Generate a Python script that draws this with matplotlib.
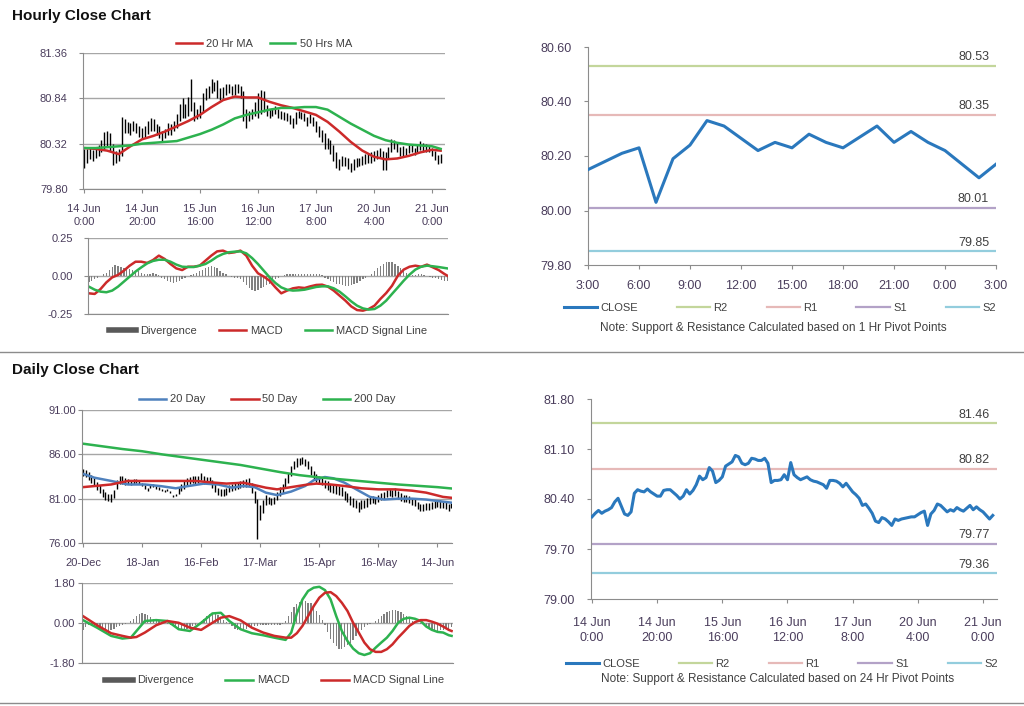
import matplotlib
matplotlib.use('Agg')
import matplotlib.pyplot as plt
from matplotlib.lines import Line2D

plt.rcParams['font.family'] = ['Liberation Sans', 'DejaVu Sans']
plt.rcParams['font.size'] = 8

# ---------------- hourly data (14 Jun 0:00 .. 21 Jun 3:00) ----------------
hourly_close = [
    80.15, 80.20, 80.24, 80.20, 80.23, 80.25, 80.28, 80.36, 80.41, 80.30,
    80.19, 80.17, 80.22, 80.48, 80.53, 80.51, 80.50, 80.54, 80.50, 80.47,
    80.44, 80.44, 80.52, 80.53, 80.53, 80.49, 80.45, 80.40, 80.44, 80.53,
    80.47, 80.52, 80.60, 80.72, 80.67, 80.70, 80.84, 80.79, 80.63, 80.66,
    80.71, 80.86, 80.89, 80.92, 81.01, 80.99, 80.90, 80.88, 80.90, 80.97,
    80.96, 80.94, 80.94, 80.97, 80.90, 80.63, 80.66, 80.66, 80.67, 80.74,
    80.67, 80.91, 80.74, 80.70, 80.67, 80.69, 80.71, 80.67, 80.65, 80.64,
    80.62, 80.60, 80.55, 80.66, 80.66, 80.65, 80.62, 80.57, 80.62, 80.56,
    80.50, 80.46, 80.41, 80.31, 80.33, 80.27, 80.20, 80.09, 80.07, 80.14,
    80.12, 80.08, 80.03, 80.12, 80.10, 80.12, 80.13, 80.14, 80.15, 80.15,
    80.18, 80.21, 80.23, 80.03, 80.19, 80.24, 80.33, 80.31, 80.265, 80.22,
    80.25, 80.23, 80.28, 80.25, 80.23, 80.27, 80.31, 80.25, 80.29, 80.25,
    80.22, 80.17, 80.12, 80.17,
]
hourly_high = [
    80.26, 80.26, 80.28, 80.25, 80.28, 80.30, 80.36, 80.45, 80.46, 80.44,
    80.32, 80.24, 80.26, 80.63, 80.60, 80.57, 80.56, 80.58, 80.56, 80.52,
    80.50, 80.52, 80.58, 80.62, 80.60, 80.55, 80.52, 80.47, 80.49, 80.56,
    80.54, 80.58, 80.66, 80.78, 80.84, 80.78, 80.86, 81.06, 80.80, 80.72,
    80.76, 80.90, 80.96, 80.98, 81.06, 81.03, 81.05, 80.96, 80.97, 81.00,
    81.00, 80.98, 81.00, 81.00, 80.98, 80.92, 80.72, 80.70, 80.72, 80.80,
    80.90, 80.94, 80.92, 80.76, 80.72, 80.73, 80.75, 80.72, 80.70, 80.68,
    80.67, 80.65, 80.62, 80.68, 80.70, 80.68, 80.67, 80.63, 80.66, 80.63,
    80.58, 80.52, 80.48, 80.44, 80.38, 80.36, 80.30, 80.22, 80.14, 80.18,
    80.17, 80.15, 80.10, 80.14, 80.15, 80.16, 80.18, 80.20, 80.20, 80.22,
    80.24, 80.25, 80.27, 80.24, 80.22, 80.28, 80.37, 80.36, 80.33, 80.28,
    80.29, 80.27, 80.31, 80.30, 80.27, 80.30, 80.35, 80.33, 80.32, 80.31,
    80.27, 80.24, 80.19, 80.20,
]
hourly_low = [
    80.04, 80.10, 80.14, 80.12, 80.16, 80.18, 80.22, 80.26, 80.28, 80.24,
    80.08, 80.10, 80.12, 80.18, 80.44, 80.44, 80.42, 80.46, 80.44, 80.40,
    80.38, 80.40, 80.43, 80.46, 80.46, 80.42, 80.38, 80.35, 80.38, 80.42,
    80.42, 80.46, 80.50, 80.58, 80.62, 80.62, 80.64, 80.70, 80.58, 80.60,
    80.62, 80.68, 80.82, 80.84, 80.90, 80.92, 80.84, 80.82, 80.84, 80.88,
    80.90, 80.88, 80.88, 80.90, 80.84, 80.58, 80.50, 80.58, 80.60, 80.64,
    80.62, 80.66, 80.68, 80.64, 80.62, 80.64, 80.66, 80.62, 80.60, 80.59,
    80.58, 80.55, 80.50, 80.54, 80.62, 80.60, 80.58, 80.52, 80.56, 80.52,
    80.45, 80.40, 80.34, 80.26, 80.26, 80.20, 80.12, 80.04, 80.02, 80.06,
    80.06, 80.03, 80.00, 80.02, 80.05, 80.06, 80.08, 80.09, 80.10, 80.10,
    80.12, 80.14, 80.17, 80.02, 80.02, 80.16, 80.22, 80.26, 80.22, 80.18,
    80.18, 80.19, 80.21, 80.22, 80.19, 80.21, 80.25, 80.22, 80.23, 80.22,
    80.18, 80.13, 80.09, 80.10,
]
ma_hours = [0, 4, 8, 12, 16, 20, 24, 28, 32, 36, 40, 44, 48, 52, 56, 60,
            64, 68, 72, 76, 80, 84, 88, 92, 96, 100, 104, 108, 112, 116, 120, 123]
ma20_hr = [80.27, 80.26, 80.24, 80.20, 80.29, 80.37, 80.41, 80.46, 80.52, 80.58,
           80.65, 80.74, 80.82, 80.86, 80.85, 80.85, 80.80, 80.76, 80.73, 80.69,
           80.65, 80.57, 80.46, 80.34, 80.24, 80.17, 80.14, 80.15, 80.18, 80.22,
           80.25, 80.24]
ma50_hr = [80.27, 80.27, 80.28, 80.29, 80.30, 80.32, 80.33, 80.34, 80.35, 80.39,
           80.43, 80.48, 80.54, 80.61, 80.65, 80.68, 80.71, 80.73, 80.73, 80.74,
           80.74, 80.71, 80.63, 80.55, 80.48, 80.41, 80.36, 80.33, 80.31, 80.30,
           80.29, 80.26]
hour_labels = ['14 Jun\n0:00', '14 Jun\n20:00', '15 Jun\n16:00', '16 Jun\n12:00',
               '17 Jun\n8:00', '20 Jun\n4:00', '21 Jun\n0:00']

macd_hours = list(range(0, 123, 2)) + [123]
macd_hr = [-0.114, -0.118, -0.086, -0.042, -0.009, 0.007, 0.035, 0.068, 0.094, 0.094,
           0.086, 0.105, 0.134, 0.112, 0.079, 0.050, 0.039, 0.061, 0.061, 0.068,
           0.101, 0.134, 0.162, 0.167, 0.151, 0.156, 0.167, 0.134, 0.068, 0.018,
           -0.004, -0.031, -0.075, -0.114, -0.096, -0.081, -0.075, -0.079, -0.068, -0.059,
           -0.057, -0.070, -0.096, -0.129, -0.162, -0.200, -0.224, -0.228, -0.217, -0.195,
           -0.151, -0.112, -0.064, 0.002, 0.042, 0.061, 0.068, 0.061, 0.075, 0.057,
           0.039, 0.013, 0.002]
signal_hr = [-0.070, -0.090, -0.103, -0.107, -0.096, -0.070, -0.037, -0.004, 0.029, 0.057,
             0.083, 0.099, 0.107, 0.107, 0.094, 0.075, 0.061, 0.059, 0.059, 0.068,
             0.079, 0.101, 0.127, 0.145, 0.156, 0.160, 0.162, 0.149, 0.118, 0.079,
             0.035, -0.009, -0.046, -0.075, -0.090, -0.096, -0.094, -0.090, -0.081, -0.072,
             -0.068, -0.068, -0.081, -0.103, -0.134, -0.167, -0.195, -0.213, -0.221, -0.217,
             -0.195, -0.162, -0.118, -0.075, -0.031, 0.009, 0.042, 0.061, 0.068, 0.064,
             0.059, 0.053, 0.050]
divergence_hr = [
    -0.04, -0.035, -0.02, -0.01, 0.0, 0.01, 0.02, 0.04, 0.06, 0.07,
    0.065, 0.06, 0.055, 0.05, 0.045, 0.04, 0.035, 0.03, 0.02, 0.015,
    0.01, 0.015, 0.02, 0.01, 0.005, -0.01, -0.02, -0.03, -0.04, -0.045,
    -0.04, -0.03, -0.02, -0.01, 0.0, 0.005, 0.01, 0.02, 0.03, 0.04,
    0.05, 0.06, 0.065, 0.06, 0.05, 0.035, 0.02, 0.01, 0.0, -0.005,
    -0.01, -0.01, -0.02, -0.04, -0.06, -0.08, -0.095, -0.1, -0.09, -0.08,
    -0.07, -0.06, -0.05, -0.035, -0.02, -0.01, 0.0, 0.005, 0.01, 0.01,
    0.01, 0.015, 0.01, 0.015, 0.01, 0.015, 0.01, 0.015, 0.01, 0.01,
    0.005, -0.01, -0.02, -0.03, -0.04, -0.05, -0.055, -0.06, -0.065, -0.065,
    -0.06, -0.055, -0.045, -0.035, -0.02, -0.01, 0.0, 0.01, 0.03, 0.05,
    0.065, 0.08, 0.09, 0.095, 0.09, 0.08, 0.065, 0.05, 0.035, 0.02,
    0.01, 0.005, 0.005, 0.01, 0.01, 0.005, 0.0, -0.005, -0.01, -0.015,
    -0.02, -0.025, -0.03, -0.03,
]

# last 25 hours, 1 hr pivots
pivot1_labels = ['3:00', '6:00', '9:00', '12:00', '15:00', '18:00', '21:00', '0:00', '3:00']
pivot1_levels = {'R2': 80.53, 'R1': 80.35, 'S1': 80.01, 'S2': 79.85}
pivot24_levels = {'R2': 81.46, 'R1': 80.82, 'S1': 79.77, 'S2': 79.36}

# ---------------- daily data (20 Dec .. 21 Jun) ----------------
daily_high = [
    84.3, 84.2, 84.0, 83.7, 83.3, 82.9, 82.5, 82.1, 81.8, 81.5,
    81.5, 82.0, 83.1, 83.6, 83.5, 83.3, 83.2, 83.1, 83.2, 83.2,
    83.0, 82.8, 82.5, 82.2, 82.5, 82.6, 82.4, 82.3, 82.1, 82.0,
    82.1, 81.9, 81.4, 81.5, 82.3, 82.6, 83.0, 83.3, 83.4, 83.6,
    83.5, 83.6, 83.9, 83.5, 83.4, 83.4, 83.1, 82.6, 82.2, 82.1,
    82.1, 82.2, 82.5, 82.7, 82.8, 82.9, 83.0, 83.1, 83.2, 83.3,
    82.8, 81.9, 81.0, 80.3, 80.9, 81.4, 81.2, 81.1, 81.2, 81.7,
    82.3, 82.6, 83.3, 83.9, 84.7, 85.3, 85.6, 85.6, 85.7, 85.5,
    85.2, 84.7, 84.1, 83.8, 83.6, 83.4, 83.1, 83.0, 82.7, 82.5,
    82.6, 82.4, 82.3, 81.9, 81.6, 81.3, 81.1, 80.9, 80.6, 80.8,
    80.9, 81.1, 81.3, 81.3, 81.2, 81.4, 81.6, 81.8, 82.0, 82.1,
    82.0, 82.2, 81.9, 81.6, 81.4, 81.4, 81.3, 81.1, 81.0, 80.6,
    80.4, 80.4, 80.5, 80.5, 80.6, 80.7, 80.9, 80.9, 80.7, 80.6,
    80.4, 80.5,
]
daily_low = [
    83.5, 83.4, 83.1, 82.8, 82.4, 82.0, 81.6, 81.2, 80.9, 80.7,
    80.6, 81.1, 82.1, 82.6, 82.6, 82.5, 82.6, 82.5, 82.7, 82.8,
    82.6, 82.4, 82.1, 81.9, 82.2, 82.3, 82.1, 82.0, 81.9, 81.8,
    81.9, 81.6, 81.2, 81.3, 81.5, 81.9, 82.1, 82.4, 82.6, 82.8,
    82.7, 82.8, 83.1, 82.7, 82.6, 82.6, 82.2, 81.7, 81.4, 81.3,
    81.3, 81.4, 81.7, 81.9, 82.0, 82.1, 82.2, 82.3, 82.3, 82.4,
    81.6, 80.5, 76.5, 78.6, 79.4, 80.3, 80.4, 80.3, 80.4, 80.8,
    81.3, 81.6, 82.2, 82.8, 83.6, 84.3, 84.6, 84.8, 84.9, 84.7,
    84.3, 83.7, 83.1, 82.9, 82.8, 82.5, 82.2, 82.0, 81.8, 81.6,
    81.5, 81.4, 81.3, 80.9, 80.6, 80.3, 80.1, 79.9, 79.5, 79.8,
    79.9, 80.1, 80.4, 80.5, 80.4, 80.6, 80.8, 81.0, 81.2, 81.3,
    81.2, 81.3, 81.0, 80.7, 80.6, 80.6, 80.5, 80.3, 80.2, 79.8,
    79.6, 79.6, 79.7, 79.7, 79.8, 79.9, 80.1, 80.0, 79.9, 79.8,
    79.6, 79.9,
]
day_labels = ['20-Dec', '18-Jan', '16-Feb', '17-Mar', '15-Apr', '16-May', '14-Jun']

ma20_days = [0, 4, 10, 16, 22, 28, 33, 37, 43, 48, 53, 57, 61, 65, 69, 74, 79, 82,
             86, 89, 93, 98, 102, 107, 112, 117, 122, 127, 131]
ma20_day = [83.8, 83.37, 83.0, 82.6, 82.6, 82.4, 82.17, 82.4, 82.7, 82.6, 82.24,
            82.43, 82.3, 81.68, 81.4, 81.8, 82.43, 83.07, 83.44, 83.3, 82.8, 81.9,
            81.2, 80.9, 81.0, 81.0, 80.9, 80.7, 80.55]
ma50_days = [0, 10, 16, 28, 40, 47, 51, 57, 60, 65, 69, 74, 80, 83, 88, 93, 99,
             105, 111, 117, 122, 128, 131]
ma50_day = [82.3, 82.6, 83.0, 83.0, 83.0, 82.8, 82.7, 82.8, 82.6, 82.24, 82.05,
            82.3, 82.6, 82.7, 82.6, 82.43, 82.17, 82.05, 82.05, 81.9, 81.68, 81.2, 81.1]
ma200_days = [0, 7, 14, 21, 28, 35, 42, 49, 56, 63, 70, 77, 84, 91, 98, 105,
              112, 119, 126, 131]
ma200_day = [87.2, 86.9, 86.6, 86.35, 86.0, 85.7, 85.4, 85.1, 84.8, 84.4, 84.0,
             83.65, 83.4, 83.2, 83.0, 82.8, 82.6, 82.45, 82.3, 82.15]

macd_days = [0, 5, 10, 14, 17, 19, 22, 26, 30, 34, 38, 42, 46, 49, 52, 56, 60, 64,
             68, 72, 74, 76, 78, 80, 82, 84, 86, 88, 90, 92, 94, 96, 98, 100, 102,
             104, 106, 108, 110, 112, 114, 116, 118, 120, 122, 124, 126, 128, 130, 131]
macd_day = [0.13, -0.21, -0.58, -0.70, -0.66, -0.36, 0.09, 0.13, 0.09, -0.28,
            -0.36, 0.01, 0.43, 0.46, 0.09, -0.28, -0.46, -0.55, -0.66, -0.76,
            -0.43, 0.43, 1.06, 1.44, 1.59, 1.63, 1.48, 1.06, 0.31, -0.36,
            -0.81, -1.15, -1.36, -1.44, -1.36, -1.11, -0.88, -0.66, -0.36, 0.01,
            0.19, 0.24, 0.19, 0.09, -0.16, -0.31, -0.40, -0.43, -0.55, -0.58]
signal_day = [0.31, -0.10, -0.46, -0.58, -0.66, -0.63, -0.43, -0.10, 0.09, 0.01,
              -0.21, -0.31, 0.01, 0.24, 0.31, 0.12, -0.21, -0.43, -0.58, -0.66,
              -0.66, -0.46, -0.13, 0.31, 0.76, 1.14, 1.36, 1.39, 1.21, 0.91,
              0.54, 0.01, -0.43, -0.88, -1.18, -1.30, -1.30, -1.18, -0.96, -0.66,
              -0.40, -0.13, 0.04, 0.13, 0.13, 0.06, -0.03, -0.16, -0.31, -0.36]
divergence_day = [
    -0.3, -0.2, -0.1, -0.1, -0.15, -0.2, -0.25, -0.3, -0.35, -0.35,
    -0.3, -0.25, -0.2, -0.15, -0.1, -0.05, 0.0, 0.1, 0.2, 0.3,
    0.4, 0.45, 0.4, 0.35, 0.25, 0.2, 0.15, 0.1, 0.05, 0.0,
    -0.05, -0.1, -0.15, -0.2, -0.25, -0.3, -0.3, -0.25, -0.2, -0.15,
    -0.1, 0.0, 0.1, 0.2, 0.3, 0.4, 0.45, 0.4, 0.35, 0.25,
    0.15, 0.05, -0.05, -0.15, -0.25, -0.3, -0.3, -0.25, -0.25, -0.2,
    -0.2, -0.15, -0.15, -0.1, -0.1, -0.1, -0.1, -0.1, -0.08, -0.08,
    -0.08, -0.05, 0.1, 0.3, 0.5, 0.7, 0.85, 0.95, 1.05, 1.0,
    0.9, 0.9, 0.75, 0.55, 0.35, 0.15, -0.1, -0.4, -0.7, -0.9,
    -1.05, -1.15, -1.15, -1.1, -1.0, -0.9, -0.75, -0.6, -0.45, -0.3,
    -0.2, -0.1, -0.05, 0.0, 0.1, 0.2, 0.3, 0.4, 0.5, 0.55,
    0.6, 0.6, 0.55, 0.5, 0.4, 0.3, 0.2, 0.1, 0.05, 0.0,
    -0.05, -0.1, -0.15, -0.25, -0.3, -0.35, -0.35, -0.3, -0.3, -0.25,
    -0.25, -0.2,
]

# ---------------- style ----------------
TXT = '#4a3d5c'
GRID = '#a6a6a6'
SPINE = '#8c8c8c'
RED = '#cc2a2a'
GREEN = '#2db24f'
BLUE = '#4f81bd'
BAR = '#808080'
PIV_COLORS = {'R2': '#c3d69b', 'R1': '#e6b9b8', 'S1': '#b3a2c7', 'S2': '#93cddd'}
CLOSE_C = '#2a78bd'


def style(ax, ypad=6, xpad=6, fs=8, grid=True):
    for s in ['top', 'right']:
        ax.spines[s].set_visible(False)
    for s in ['left', 'bottom']:
        ax.spines[s].set_color(SPINE)
    ax.tick_params(axis='both', colors=SPINE, labelcolor=TXT, labelsize=fs,
                   length=3, width=0.8, direction='out')
    ax.tick_params(axis='y', pad=ypad)
    ax.tick_params(axis='x', pad=xpad)
    if grid:
        ax.yaxis.grid(True, color=GRID, lw=1)
    ax.set_axisbelow(True)


fig = plt.figure(figsize=(10.24, 7.06), dpi=100)

fig.text(12 / 1024, 1 - 16 / 706, 'Hourly Close Chart', fontsize=11, fontweight='bold',
         va='center', ha='left', color='#111111')
fig.text(12 / 1024, 1 - 370 / 706, 'Daily Close Chart', fontsize=11, fontweight='bold',
         va='center', ha='left', color='#111111')
fig.add_artist(Line2D([0, 1], [1 - 352 / 706, 1 - 352 / 706], color='#8c8c8c', lw=1))
fig.add_artist(Line2D([0, 1], [1 - 703 / 706, 1 - 703 / 706], color='#8c8c8c', lw=1))

hours = list(range(len(hourly_close)))
days = list(range(len(daily_high)))

# ---- hourly candles ----
ax1 = fig.add_axes([83 / 1024, 1 - 189 / 706, 362 / 1024, 136 / 706])
style(ax1, ypad=8, xpad=8)
ax1.vlines(hours, hourly_low, hourly_high, color='black', lw=1.0)
ax1.plot(ma_hours, ma20_hr, color=RED, lw=1.8, label='20 Hr MA')
ax1.plot(ma_hours, ma50_hr, color=GREEN, lw=1.8, label='50 Hrs MA')
ax1.set_ylim(79.80, 81.36)
ax1.set_yticks([79.80, 80.32, 80.84, 81.36])
ax1.yaxis.set_major_formatter(lambda v, p: f'{v:.2f}')
ax1.set_xlim(-0.35, 124.5)
ax1.set_xticks(hours[::20])
ax1.set_xticklabels(hour_labels, linespacing=1.3)
ax1.legend(loc='lower center', bbox_to_anchor=(0.5, 1.0), ncol=2, frameon=False,
           handlelength=2.3, handletextpad=0.4, columnspacing=1.5, fontsize=8,
           labelcolor='#404040', borderaxespad=0.0)

# ---- hourly MACD ----
ax2 = fig.add_axes([88 / 1024, 1 - 314 / 706, 360 / 1024, 76 / 706])
style(ax2, ypad=8)
ax2.bar(hours, divergence_hr, width=0.45, color=BAR, label='Divergence')
ax2.plot(macd_hours, macd_hr, color=RED, lw=1.8, label='MACD')
ax2.plot(macd_hours, signal_hr, color=GREEN, lw=1.8, label='MACD Signal Line')
ax2.set_ylim(-0.25, 0.25)
ax2.set_yticks([-0.25, 0.0, 0.25])
ax2.yaxis.set_major_formatter(lambda v, p: f'{v:.2f}')
ax2.set_xlim(-0.3, 123.2)
ax2.set_xticks([])
h2 = [Line2D([], [], color='#595959', lw=4), Line2D([], [], color=RED, lw=1.8),
      Line2D([], [], color=GREEN, lw=1.8)]
ax2.legend(h2, ['Divergence', 'MACD', 'MACD Signal Line'], loc='upper center',
           bbox_to_anchor=(0.5, -0.02), ncol=3, frameon=False, handlelength=2.4,
           handletextpad=0.4, columnspacing=2.0, fontsize=8, labelcolor='#404040')

# ---- pivot charts ----
def pivot_chart(ax, xs, ys, levels, ticks, tlabels, ylim, yticks):
    style(ax, ypad=9, xpad=10, fs=9, grid=False)
    ax.plot(xs, ys, color=CLOSE_C, lw=2.2, zorder=3)
    for name, val in levels.items():
        ax.axhline(val, color=PIV_COLORS[name], lw=1.6, zorder=2)
        ax.annotate(f'{val:.2f}', xy=(1, val), xycoords=('axes fraction', 'data'),
                    xytext=(-5, 2), textcoords='offset points', ha='right', va='bottom',
                    fontsize=9, color='#404040')
    ax.set_ylim(*ylim)
    ax.set_yticks(yticks)
    ax.yaxis.set_major_formatter(lambda v, p: f'{v:.2f}')
    ax.set_xticks(ticks)
    ax.set_xticklabels(tlabels, linespacing=1.3)
    handles = [Line2D([], [], color=CLOSE_C, lw=2.2)] + \
              [Line2D([], [], color=PIV_COLORS[k], lw=1.6) for k in ['R2', 'R1', 'S1', 'S2']]
    return handles


ax3 = fig.add_axes([588 / 1024, 1 - 265 / 706, 408 / 1024, 218 / 706])
piv_hours = list(range(25))
h3 = pivot_chart(ax3, piv_hours, hourly_close[-25:], pivot1_levels, piv_hours[::3],
                 pivot1_labels, (79.80, 80.60), [79.80, 80.00, 80.20, 80.40, 80.60])
ax3.set_xlim(0, 24)
ax3.tick_params(axis='x', pad=8)
ax3.legend(h3, ['CLOSE', 'R2', 'R1', 'S1', 'S2'], loc='upper center',
           bbox_to_anchor=(0.47, -0.13), ncol=5, frameon=False, handlelength=3,
           handletextpad=0.3, columnspacing=3.5, fontsize=8, labelcolor='#404040')
fig.text(773 / 1024, 1 - 328 / 706,
         'Note: Support & Resistance Calculated based on 1 Hr Pivot Points',
         ha='center', va='center', fontsize=8.5, color='#404040')

ax6 = fig.add_axes([591 / 1024, 1 - 599 / 706, 406 / 1024, 200 / 706])
h6 = pivot_chart(ax6, hours, hourly_close, pivot24_levels, hours[::20], hour_labels,
                 (79.00, 81.80), [79.00, 79.70, 80.40, 81.10, 81.80])
ax6.set_xlim(-0.3, 124.3)
ax6.legend(h6, ['CLOSE', 'R2', 'R1', 'S1', 'S2'], loc='upper center',
           bbox_to_anchor=(0.47, -0.25), ncol=5, frameon=False, handlelength=3,
           handletextpad=0.3, columnspacing=3.5, fontsize=8, labelcolor='#404040')
fig.text(778 / 1024, 1 - 679 / 706,
         'Note: Support & Resistance Calculated based on 24 Hr Pivot Points',
         ha='center', va='center', fontsize=8.5, color='#404040')

# ---- daily candles ----
ax4 = fig.add_axes([82 / 1024, 1 - 543 / 706, 370 / 1024, 133 / 706])
style(ax4, ypad=1, xpad=8)
ax4.vlines(days, daily_low, daily_high, color='black', lw=1.0)
ax4.plot(ma20_days, ma20_day, color=BLUE, lw=1.8, label='20 Day')
ax4.plot(ma50_days, ma50_day, color=RED, lw=1.8, label='50 Day')
ax4.plot(ma200_days, ma200_day, color=GREEN, lw=1.8, label='200 Day')
ax4.set_ylim(76, 91)
ax4.set_yticks([76, 81, 86, 91])
ax4.yaxis.set_major_formatter(lambda v, p: f'{v:.2f}')
ax4.set_xlim(-0.35, 131.2)
ax4.set_xticks(days[::21])
ax4.set_xticklabels(day_labels)
ax4.legend(loc='lower center', bbox_to_anchor=(0.5, 1.0), ncol=3, frameon=False,
           handlelength=2.5, handletextpad=0.3, columnspacing=2.3, fontsize=8,
           labelcolor='#404040', borderaxespad=0.1)

# ---- daily MACD ----
ax5 = fig.add_axes([82 / 1024, 1 - 663 / 706, 371 / 1024, 80 / 706])
style(ax5, ypad=2)
ax5.bar(days, divergence_day, width=0.45, color=BAR)
ax5.plot(macd_days, macd_day, color=GREEN, lw=1.8)
ax5.plot(macd_days, signal_day, color=RED, lw=1.8)
ax5.set_ylim(-1.8, 1.8)
ax5.set_yticks([-1.8, 0.0, 1.8])
ax5.yaxis.set_major_formatter(lambda v, p: f'{v:.2f}')
ax5.set_xlim(-0.35, 131.5)
ax5.set_xticks([])
h5 = [Line2D([], [], color='#595959', lw=4), Line2D([], [], color=GREEN, lw=1.8),
      Line2D([], [], color=RED, lw=1.8)]
ax5.legend(h5, ['Divergence', 'MACD', 'MACD Signal Line'], loc='upper center',
           bbox_to_anchor=(0.52, -0.03), ncol=3, frameon=False, handlelength=2.5,
           handletextpad=0.4, columnspacing=2.8, fontsize=8, labelcolor='#404040')

fig.savefig('out.png', dpi=100, facecolor='white')
